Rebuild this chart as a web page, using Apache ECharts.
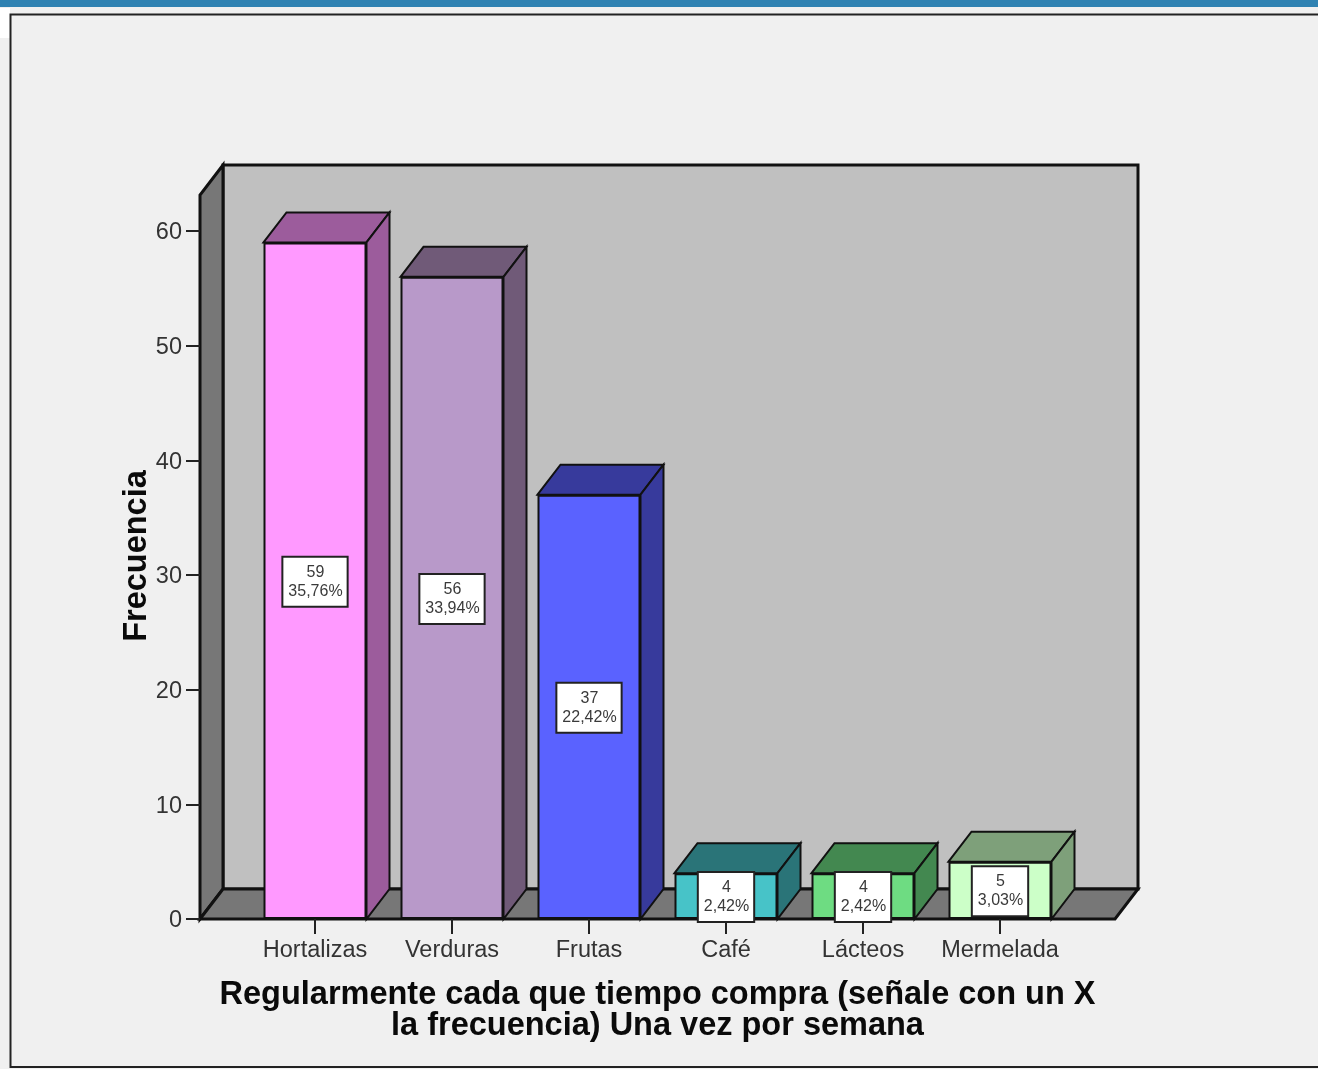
<!DOCTYPE html>
<html><head><meta charset="utf-8">
<style>html,body{margin:0;padding:0;background:#f0f0f0}#c{width:1318px;height:1069px}</style>
<script src="https://cdn.jsdelivr.net/npm/echarts@6/dist/echarts.min.js"></script>
</head><body><div id="c"></div>
<script>
const categories = ['Hortalizas','Verduras','Frutas','Café','Lácteos','Mermelada'];
const counts = [59,56,37,4,4,5];
const percents = ['35,76%','33,94%','22,42%','2,42%','2,42%','3,03%'];
const frontColors = ['#FF99FF','#B899C9','#5A62FF','#47C3C8','#6EDC82','#CCFFC8'];
const depthColors = ['#9C5C9C','#705A78','#373A9C','#2A7478','#438850','#7EA07A'];
const yTicks = {min:0,max:60,interval:10};
const xTitle = 'Regularmente cada que tiempo compra (señale con un X\nla frecuencia) Una vez por semana';
const yTitle = 'Frecuencia';

const DX = 23, DY = -30, BAR_W = 103, WALL_OUT = 46.5, WALL_EXTRA = 36;
const FONT = '"Liberation Sans", Arial, sans-serif';
const line = {stroke:'#111', lineWidth:3, lineJoin:'miter'};

const chart = echarts.init(document.getElementById('c'), null, {renderer:'canvas'});
chart.setOption({
  animation:false,
  backgroundColor:'#F0F0F0',
  graphic:[
    {type:'rect', silent:true, z:-1, shape:{x:0,y:8,width:10,height:30}, style:{fill:'#FFFFFF'}},
    {type:'rect', silent:true, z:-1, shape:{x:0,y:0,width:1318,height:7}, style:{fill:'#2F82B2'}},
    {type:'rect', silent:true, z:-1, shape:{x:10.5,y:14.5,width:1340,height:1052.5}, style:{fill:'#F0F0F0', stroke:'#222', lineWidth:2}}
  ],
  grid:{left:246.5, width:822, top:231, height:688},
  xAxis:{
    type:'category', data:categories, z:3,
    axisTick:{show:true, alignWithLabel:true, length:15, lineStyle:{color:'#222',width:2}},
    axisLine:{lineStyle:{color:'#111',width:2}},
    axisLabel:{color:'#333', fontFamily:FONT, fontSize:23.5, margin:20, interval:0},
    name:xTitle, nameLocation:'middle', nameGap:61,
    nameTextStyle:{color:'#0a0a0a', fontFamily:FONT, fontWeight:'bold', fontSize:32.5, lineHeight:31}
  },
  yAxis:{
    type:'value', min:yTicks.min, max:yTicks.max, interval:yTicks.interval, offset:46.5, z:3,
    splitLine:{show:false},
    axisLine:{show:false},
    axisTick:{show:true, length:14, lineStyle:{color:'#222',width:2}},
    axisLabel:{color:'#333', fontFamily:FONT, fontSize:23.5, margin:18, verticalAlign:'top', lineHeight:4},
    name:yTitle, nameLocation:'middle', nameGap:46, nameRotate:90, nameMoveOverlap:false,
    nameTextStyle:{color:'#0a0a0a', fontFamily:FONT, fontWeight:'bold', fontSize:32.5, padding:[0,0,0,38]}
  },
  series:[
    { // chart walls
      type:'custom', z:1, silent:true, data:[[0,0]],
      renderItem(params, api){
        const r = params.coordSys;
        const L = r.x-WALL_OUT, R = r.x+r.width+WALL_OUT, B = api.coord([0,yTicks.min])[1], T = api.coord([0,yTicks.max])[1]-WALL_EXTRA;
        return {type:'group', children:[
          {type:'rect', shape:{x:L+DX,y:T+DY,width:R-L,height:B-T}, style:{fill:'#C0C0C0',...line}},
          {type:'polygon', shape:{points:[[L,B],[L+DX,B+DY],[L+DX,T+DY],[L,T]]}, style:{fill:'#777777',...line}},
          {type:'polygon', shape:{points:[[L,B],[L+DX,B+DY],[R+DX,B+DY],[R,B]]}, style:{fill:'#777777',...line}}
        ]};
      }
    },
    { // depth faces of the bars
      type:'custom', z:2, silent:true,
      data:counts.map((v,i)=>[i,v]),
      encode:{x:0,y:1},
      renderItem(params, api){
        const i = api.value(0), top = api.coord([i,api.value(1)]), base = api.coord([i,0]);
        const l = top[0]-BAR_W/2, r = top[0]+BAR_W/2;
        const st = {fill:depthColors[i], stroke:'#111', lineWidth:2, lineJoin:'miter'};
        return {type:'group', children:[
          {type:'polygon', shape:{points:[[l,top[1]],[l+DX,top[1]+DY],[r+DX,top[1]+DY],[r,top[1]]]}, style:st},
          {type:'polygon', shape:{points:[[r,top[1]],[r+DX,top[1]+DY],[r+DX,base[1]+DY],[r,base[1]]]}, style:st}
        ]};
      }
    },
    { // front faces, with the data labels
      type:'bar', z:4, barWidth:BAR_W, silent:true,
      data:counts.map((v,i)=>({value:v, itemStyle:{color:frontColors[i]}})),
      itemStyle:{borderColor:'#111', borderWidth:2},
      label:{
        show:true, position:'inside', offset:[0,1], color:'#3a3a3a', fontFamily:FONT, fontSize:16, lineHeight:19,
        backgroundColor:'#FFFFFF', borderColor:'#222', borderWidth:2, padding:[5,4,5,5],
        formatter:p=>counts[p.dataIndex]+'\n'+percents[p.dataIndex]
      }
    }
  ]
});
</script></body></html>
